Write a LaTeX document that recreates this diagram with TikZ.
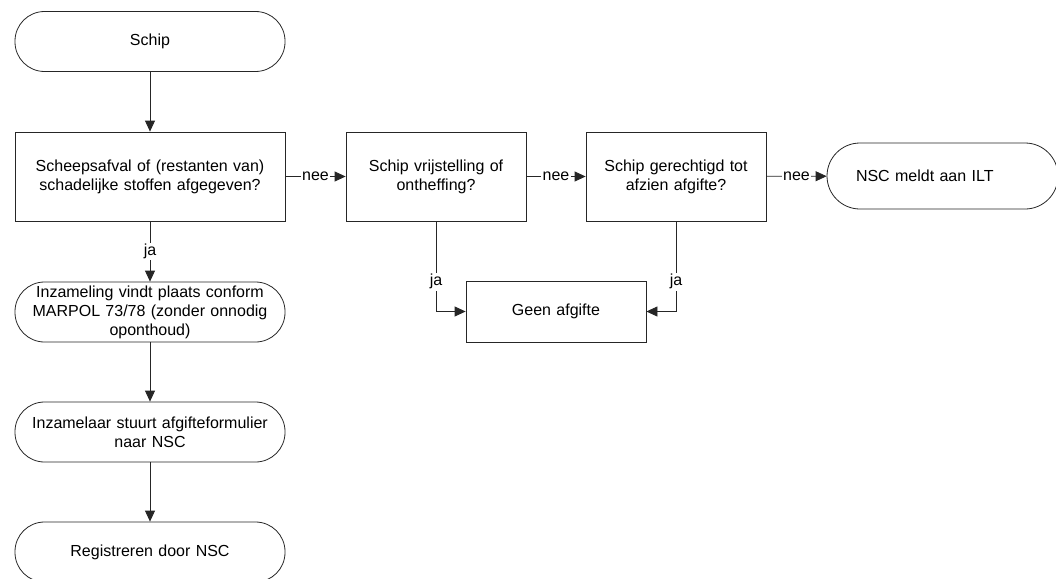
\documentclass[tikz,border=0pt]{standalone}
\usepackage{fontspec}
\setmainfont{Liberation Sans}
\usetikzlibrary{arrows.meta}
\begin{document}
\begin{tikzpicture}[x=1pt,y=-1pt,
  base/.style={draw=black!85, line width=0.8pt, align=center,
    font=\fontsize{16}{19}\selectfont, inner sep=0pt},
  term/.style={base, rounded corners=29.5pt, minimum width=270pt,
    minimum height=60pt, text width=256pt},
  proc/.style={base, minimum width=180pt, text width=170pt},
  flow/.style={draw=black!85, line width=0.8pt,
    -{Triangle[length=11pt,width=10pt]}},
  lbl/.style={fill=white, inner sep=1.5pt, font=\fontsize{16}{19}\selectfont}
]
\useasboundingbox (0,0) rectangle (1056,578);
\clip (0,0) rectangle (1056,578);

% left column
\node[term] (schip) at (150,41.5) {Schip};
\node[proc, minimum width=270pt, text width=256pt, minimum height=89pt]
  (q1) at (150,176.5) {Scheepsafval of (restanten van)\\schadelijke stoffen afgegeven?};
\node[term] (inz) at (150,312) {Inzameling vindt plaats conform\\MARPOL 73/78 (zonder onnodig\\oponthoud)};
\node[term] (stuurt) at (150,432) {Inzamelaar stuurt afgifteformulier\\naar NSC};
\node[term] (reg) at (150,552) {Registreren door NSC};

% decision row
\node[proc, minimum height=89pt] (q2) at (436,176.5) {Schip vrijstelling of\\ontheffing?};
\node[proc, minimum height=89pt] (q3) at (676,176.5) {Schip gerechtigd tot\\afzien afgifte?};
\node[base, rounded corners=33pt, minimum width=231pt, minimum height=66pt,
  text width=173pt, align=left] (ilt) at (942.5,176) {NSC meldt aan ILT};
\node[proc, minimum height=61pt] (geen) at (556,311.5) {Geen afgifte};

% connectors
\draw[flow] (schip) -- (q1);
\draw[flow] (q1) -- node[lbl]{nee} (q2);
\draw[flow] (q2) -- node[lbl]{nee} (q3);
\draw[flow] (q3) -- node[lbl]{nee} (ilt);
\draw[flow] (q1) -- node[lbl]{ja} (inz);
\draw[flow] (inz) -- (stuurt);
\draw[flow] (stuurt) -- (reg);
\draw[flow] (q2.south) |- node[lbl, pos=0.335]{ja} (geen.west);
\draw[flow] (q3.south) |- node[lbl, pos=0.335]{ja} (geen.east);
\end{tikzpicture}
\end{document}
